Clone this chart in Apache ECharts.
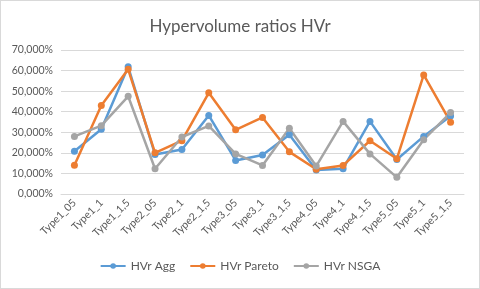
<!DOCTYPE html>
<html><head><meta charset="utf-8">
<script src="https://cdn.jsdelivr.net/npm/echarts@6/dist/echarts.min.js"></script>
<style>html,body{margin:0;padding:0;background:#fff}#c{width:480px;height:289px;box-sizing:border-box;border:1px solid #d9d9d9}</style>
</head><body><div id="c"></div>
<script>
const categories = ['Type1_05','Type1_1','Type1_1,5','Type2_05','Type2_1','Type2_1,5','Type3_05','Type3_1','Type3_1,5','Type4_05','Type4_1','Type4_1,5','Type5_05','Type5_1','Type5_1,5'];
const hvrAgg    = [20.8, 31.5, 61.8, 19.2, 21.6, 38.2, 16.3, 19.0, 28.8, 11.7, 12.3, 35.3, 16.8, 28.0, 37.9];
const hvrPareto = [14.0, 43.0, 60.6, 20.0, 25.9, 49.2, 31.2, 37.2, 20.5, 12.0, 13.9, 25.9, 17.1, 57.9, 34.9];
const hvrNSGA   = [28.0, 33.2, 47.5, 12.3, 27.7, 33.1, 19.5, 13.9, 32.0, 13.6, 35.3, 19.5, 8.1, 26.4, 39.6];
const yTicks = {min: 0, max: 70, interval: 10};

const font = 'Lato, "Open Sans", sans-serif';
const chart = echarts.init(document.getElementById('c'));
function s(name, data, color){
  return {name, type:'line', data, symbol:'circle', symbolSize:7,
    lineStyle:{width:2.5, color}, itemStyle:{color}, z: 2};
}
chart.setOption({
  animation:false,
  color:['#5B9BD5','#ED7D31','#A5A5A5'],
  title:{text:'Hypervolume ratios HVr', left:'center', top:12,
    textStyle:{fontFamily:font, fontSize:17, fontWeight:'normal', color:'#595959'}},
  grid:{left:60, right:15, top:49, bottom:94},
  legend:{bottom:11, left:'center', itemWidth:25, itemHeight:7, itemGap:14,
    textStyle:{fontFamily:font, fontSize:12, color:'#595959'},
    data:['HVr Agg','HVr Pareto','HVr NSGA']},
  xAxis:{type:'category', data:categories, boundaryGap:true,
    axisLine:{lineStyle:{color:'#d9d9d9'}}, axisTick:{show:false},
    axisLabel:{rotate:45, interval:0, fontFamily:font, fontSize:10.5, color:'#595959', margin:7}},
  yAxis:{type:'value', min:yTicks.min, max:yTicks.max, interval:yTicks.interval,
    axisLine:{show:false}, axisTick:{show:false},
    splitLine:{lineStyle:{color:'#d9d9d9'}},
    axisLabel:{fontFamily:font, fontSize:10.5, color:'#595959', margin:8,
      formatter:v=>v.toFixed(3).replace('.',',')+'%'}},
  series:[s('HVr Agg',hvrAgg,'#5B9BD5'), s('HVr Pareto',hvrPareto,'#ED7D31'), s('HVr NSGA',hvrNSGA,'#A5A5A5')]
});
</script></body></html>
